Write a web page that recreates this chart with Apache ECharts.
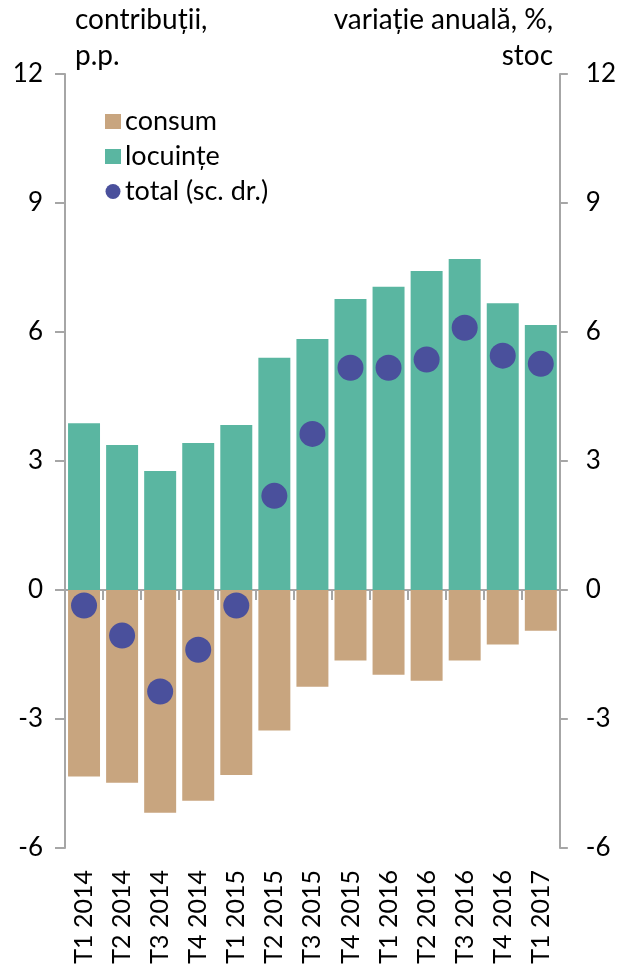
<!DOCTYPE html>
<html>
<head>
<meta charset="utf-8">
<script src="https://cdn.jsdelivr.net/npm/echarts@6/dist/echarts.min.js"></script>
<style>
  html, body { margin: 0; padding: 0; background: #fff; }
  #chart { width: 619px; height: 967px; }
</style>
</head>
<body>
<div id="chart"></div>
<script>
// Quarters shown on the category axis
const categories = ['T1 2014', 'T2 2014', 'T3 2014', 'T4 2014', 'T1 2015', 'T2 2015', 'T3 2015',
  'T4 2015', 'T1 2016', 'T2 2016', 'T3 2016', 'T4 2016', 'T1 2017'];

// Contributions, percentage points (left axis)
const consum = [-4.34, -4.48, -5.18, -4.90, -4.30, -3.27, -2.25, -1.64, -1.97, -2.11, -1.64, -1.27, -0.95];
const locuinte = [3.88, 3.37, 2.77, 3.42, 3.84, 5.40, 5.84, 6.77, 7.05, 7.42, 7.70, 6.67, 6.16];

// Annual change of the stock, % (right axis)
const total = [-0.36, -1.06, -2.36, -1.39, -0.36, 2.19, 3.63, 5.17, 5.17, 5.36, 6.10, 5.45, 5.26];

// Value axis ticks
const axisMin = -6, axisMax = 12, axisStep = 3;

const FONT = 'Lato';
const GRAY = '#A6A6A6';
const chart = echarts.init(document.getElementById('chart'), null, { renderer: 'canvas' });

const valueAxis = (pos, margin, tickLen) => ({
  type: 'value',
  position: pos,
  min: axisMin, max: axisMax, interval: axisStep,
  axisLine: { show: true, onZero: false, lineStyle: { color: GRAY, width: 2 } },
  axisTick: { show: true, length: tickLen, lineStyle: { color: GRAY, width: 2 } },
  splitLine: { show: false },
  axisLabel: { margin: margin, color: '#000', fontFamily: FONT, fontSize: 26 }
});

chart.setOption({
  animation: false,
  textStyle: { fontFamily: FONT },
  grid: { left: 65, right: 57, top: 74, bottom: 119, containLabel: false },
  legend: {
    orient: 'vertical', left: 100, top: 103, itemGap: 8,
    itemWidth: 16, itemHeight: 15,
    textStyle: { fontFamily: FONT, fontSize: 27, color: '#000', padding: [0, 0, 0, -1] },
    data: [
      { name: 'consum', icon: 'rect' },
      { name: 'locuințe', icon: 'rect' },
      { name: 'total (sc. dr.)', icon: 'circle' }
    ]
  },
  xAxis: [
    {
      type: 'category', data: categories, position: 'bottom',
      axisLine: { show: false, onZero: false }, axisTick: { show: false },
      axisLabel: { rotate: 90, margin: 22, color: '#000', fontFamily: FONT, fontSize: 25, interval: 0 }
    },
    {
      type: 'category', data: categories, position: 'top',
      axisLine: { show: true, onZero: true, lineStyle: { color: GRAY, width: 2 } },
      axisTick: { show: true, inside: true, length: 10, interval: 0, lineStyle: { color: GRAY, width: 2 } },
      axisLabel: { show: false }
    }
  ],
  yAxis: [valueAxis('left', 22, 10), valueAxis('right', 26, 8)],
  series: [
    {
      name: 'consum', type: 'bar', stack: 'contrib', data: consum,
      barCategoryGap: '16%', itemStyle: { color: '#C8A57F' }
    },
    {
      name: 'locuințe', type: 'bar', stack: 'contrib', data: locuinte,
      barCategoryGap: '16%', itemStyle: { color: '#5AB6A1' }
    },
    {
      name: 'total (sc. dr.)', type: 'scatter', yAxisIndex: 1, data: total,
      symbolSize: 26, itemStyle: { color: '#4A509C', opacity: 1 }, z: 5
    }
  ],
  graphic: [
    { type: 'text', left: 75, top: 6, style: { text: 'contribuții,', font: '28px Lato', fill: '#000' } },
    { type: 'text', left: 75, top: 42, style: { text: 'p.p.', font: '28px Lato', fill: '#000' } },
    { type: 'text', right: 66, top: 6, style: { text: 'variație anuală, %,', font: '28px Lato', fill: '#000' } },
    { type: 'text', right: 66, top: 42, style: { text: 'stoc', font: '28px Lato', fill: '#000' } }
  ]
});
</script>
</body>
</html>
